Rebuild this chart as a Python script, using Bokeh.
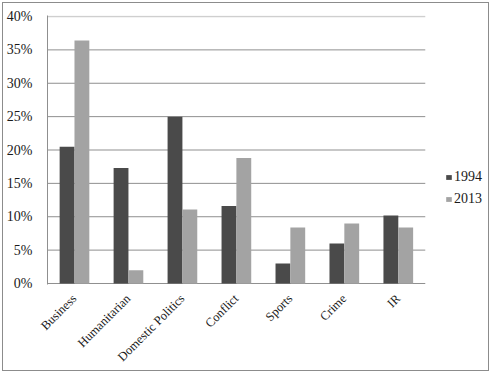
from bokeh.plotting import figure
from bokeh.models import (ColumnDataSource, NumeralTickFormatter, FixedTicker,
                          Legend, LegendItem, Range1d)
from bokeh.embed import file_html
from bokeh.resources import INLINE
import math

categories = ["Business", "Humanitarian", "Domestic Politics", "Conflict",
              "Sports", "Crime", "IR"]
series_names = ["1994", "2013"]
values_1994 = [0.205, 0.173, 0.250, 0.116, 0.030, 0.060, 0.102]
values_2013 = [0.364, 0.020, 0.111, 0.188, 0.084, 0.090, 0.084]
y_ticks = [0.0, 0.05, 0.10, 0.15, 0.20, 0.25, 0.30, 0.35, 0.40]

n = len(categories)
x_pos = [i + 0.5 for i in range(n)]
BAR_W = 0.275
src = ColumnDataSource(dict(
    x1=[x - BAR_W / 2 for x in x_pos], x2=[x + BAR_W / 2 for x in x_pos],
    v1994=values_1994, v2013=values_2013))

FONT = "Liberation Serif"

p = figure(width=487, height=369,
           x_range=Range1d(0, 8.19), y_range=Range1d(-0.0015, 0.4015),
           output_backend="svg", toolbar_location=None,
           min_border_left=43, min_border_right=1, min_border_top=12,
           min_border_bottom=85)
p.margin = (2, 2, 2, 2)
p.styles = {"border": "1px solid #8c8c8c"}
p.outline_line_color = None
p.background_fill_color = "white"
p.border_fill_color = "white"
p.xgrid.grid_line_color = None
p.ygrid.grid_line_color = None

# horizontal gridlines over the category area
grid_y = y_ticks
grid_colors = ["#8f8f8f"] * (len(y_ticks) - 1) + ["#cfcfcf"]
grid_widths = [1] * (len(y_ticks) - 1) + [1.5]
p.segment(x0=[0] * len(grid_y), x1=[n] * len(grid_y), y0=grid_y, y1=grid_y,
          line_color=grid_colors, line_width=grid_widths)

r1 = p.vbar(x="x1", top="v1994", width=BAR_W, source=src,
            fill_color="#4a4a4a", line_color=None)
r2 = p.vbar(x="x2", top="v2013", width=BAR_W, source=src,
            fill_color="#a3a3a3", line_color=None)

p.yaxis.ticker = FixedTicker(ticks=y_ticks)
p.yaxis.formatter = NumeralTickFormatter(format="0%")
p.xaxis.ticker = FixedTicker(ticks=x_pos)
p.xaxis.major_label_overrides = {x: c for x, c in zip(x_pos, categories)}

for ax in (p.xaxis[0], p.yaxis[0]):
    ax.major_tick_line_color = None
    ax.minor_tick_line_color = None
    ax.major_label_text_font = FONT
    ax.major_label_text_color = "#1a1a1a"
p.yaxis.axis_line_color = "#8f8f8f"
p.xaxis.axis_line_color = None

p.yaxis.major_label_text_font_size = "14px"
p.yaxis.major_label_standoff = 9
p.xaxis.major_label_text_font_size = "12.5px"
p.xaxis.major_label_orientation = math.pi / 4
p.xaxis.major_label_standoff = 6

legend = Legend(items=[LegendItem(label=series_names[0], renderers=[r1]),
                       LegendItem(label=series_names[1], renderers=[r2])],
                location=(398, 77))
legend.padding = 0
legend.margin = 0
legend.border_line_color = None
legend.background_fill_color = None
legend.glyph_width = 7
legend.glyph_height = 6
legend.label_height = 15
legend.spacing = 6
legend.label_standoff = 2
legend.label_text_font = FONT
legend.label_text_font_size = "14px"
legend.label_text_color = "#1a1a1a"
p.add_layout(legend)

open("out.html", "w").write(file_html(p, INLINE))
